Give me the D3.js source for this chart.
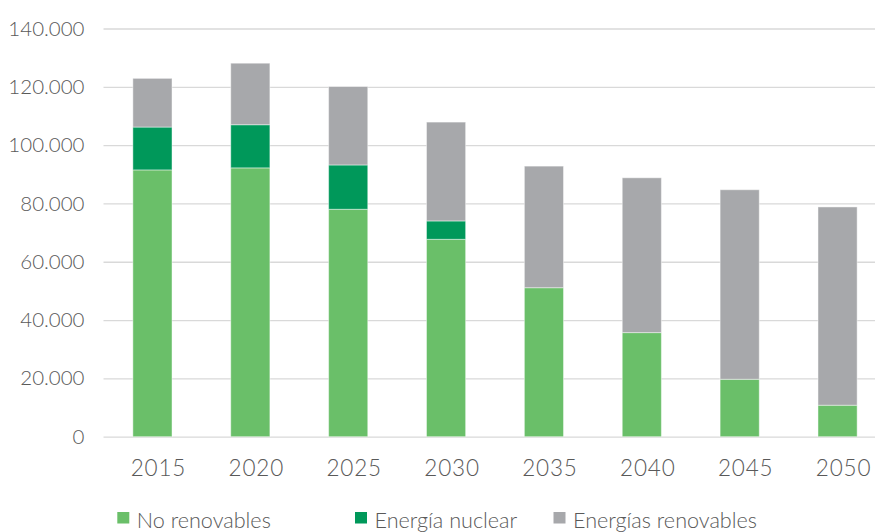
<!DOCTYPE html>
<html>
<head>
<meta charset="utf-8">
<script src="https://cdn.jsdelivr.net/npm/d3@7"></script>
<style>
    body { margin: 0; background: #ffffff; }
    svg { display: block; }
</style>
</head>
<body>
<svg id="drawing_region"></svg>
<script>
const years = ['2015', '2020', '2025', '2030', '2035', '2040', '2045', '2050'];
const noRenovables = [91500, 92200, 78000, 67700, 51100, 35700, 19700, 10800];
const nuclear = [14700, 14800, 15200, 6300, 0, 0, 0, 0];
const renovables = [16700, 21100, 26900, 33900, 41700, 53100, 65000, 68000];
const seriesNames = ['No renovables', 'Energía nuclear', 'Energías renovables'];
const yTicks = [0, 20000, 40000, 60000, 80000, 100000, 120000, 140000];

const colors = ['#6abf69', '#00985a', '#a7a8ab'];
const keys = ['no', 'nuc', 'ren'];

const data = years.map((y, i) => ({ year: y, no: noRenovables[i], nuc: nuclear[i], ren: renovables[i] }));

const config = {
    width: 875,
    height: 532,
    left: 103.5,
    right: 886.5,
    top: 28.5,
    bottom: 436.7
};

const locale = d3.formatLocale({ decimal: ',', thousands: '.', grouping: [3], currency: ['', ' €'] });
const fmt = locale.format(',');

const svg = d3.select('#drawing_region')
    .attr('width', config.width)
    .attr('height', config.height);

const xscale = d3.scaleBand()
    .domain(years)
    .range([config.left, config.right])
    .paddingInner(0.6)
    .paddingOuter(0.3);

const yscale = d3.scaleLinear()
    .domain([0, 140000])
    .range([config.bottom, config.top]);

// gridlines + y labels
const yaxis = d3.axisLeft(yscale)
    .tickValues(yTicks)
    .tickFormat(d => fmt(d))
    .tickSize(-(config.right - config.left))
    .tickPadding(19);

const ygroup = svg.append('g')
    .attr('transform', `translate(${config.left}, 0)`)
    .call(yaxis);
ygroup.select('.domain').remove();
ygroup.selectAll('.tick line')
    .attr('stroke', '#d9d9d9')
    .attr('stroke-width', 1.3);
ygroup.selectAll('.tick text')
    .attr('fill', '#595959')
    .attr('font-family', 'Lato, sans-serif')
    .attr('font-weight', 300)
    .attr('font-size', '20.5px');

// stacked bars
const stacked = d3.stack().keys(keys)(data);

svg.append('g')
    .selectAll('g')
    .data(stacked)
    .join('g')
    .attr('fill', (d, i) => colors[i])
    .selectAll('rect')
    .data(d => d.filter(s => s[1] - s[0] > 0))
    .join('rect')
    .attr('x', d => xscale(d.data.year))
    .attr('y', d => yscale(d[1]))
    .attr('width', xscale.bandwidth())
    .attr('height', d => yscale(d[0]) - yscale(d[1]))
    .attr('stroke', '#ffffff')
    .attr('stroke-opacity', 0.45)
    .attr('stroke-width', 1);

// x labels
const xaxis = d3.axisBottom(xscale).tickSize(0).tickPadding(0);
const xgroup = svg.append('g')
    .attr('transform', `translate(0, ${config.bottom})`)
    .call(xaxis);
xgroup.select('.domain').remove();
xgroup.selectAll('.tick text')
    .attr('dy', null)
    .attr('y', 39)
    .attr('dx', 6)
    .attr('fill', '#595959')
    .attr('font-family', 'Lato, sans-serif')
    .attr('font-weight', 300)
    .attr('font-size', '22.5px')
    .attr('letter-spacing', '0.8px');

// legend
const legendX = [117.3, 355, 553.5];
const legend = svg.append('g')
    .selectAll('g')
    .data(seriesNames)
    .join('g')
    .attr('transform', (d, i) => `translate(${legendX[i]}, 512)`);
legend.append('rect')
    .attr('width', 12)
    .attr('height', 11.5)
    .attr('fill', (d, i) => colors[i]);
legend.append('text')
    .attr('x', 19.5)
    .attr('y', 15.5)
    .attr('fill', '#595959')
    .attr('font-family', 'Lato, sans-serif')
    .attr('font-weight', 300)
    .attr('font-size', '21.6px')
    .text(d => d);
</script>
</body>
</html>
